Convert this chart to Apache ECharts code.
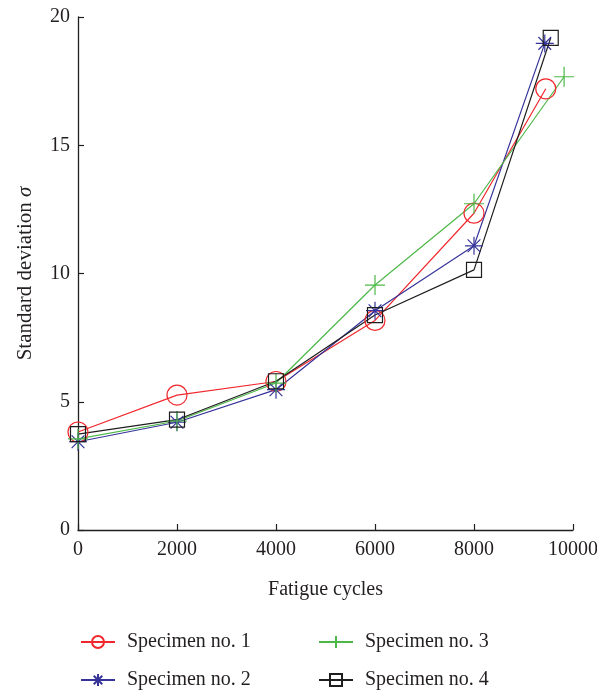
<!DOCTYPE html>
<html>
<head>
<meta charset="utf-8">
<script src="https://cdn.jsdelivr.net/npm/echarts@6/dist/echarts.min.js"></script>
<style>
  html, body { margin: 0; padding: 0; background: #fff; }
  #chart { width: 597px; height: 696px; }
</style>
</head>
<body>
<div id="chart"></div>
<script>
// Standard deviation of specimens versus fatigue cycles
const seriesNames = ['Specimen no. 1', 'Specimen no. 2', 'Specimen no. 3', 'Specimen no. 4'];
const spec1 = [[0, 3.82], [2000, 5.26], [4000, 5.79], [6000, 8.17], [8000, 12.35], [9450, 17.2]];
const spec2 = [[0, 3.44], [2000, 4.2], [4000, 5.47], [6000, 8.55], [8000, 11.08], [9430, 18.97]];
const spec3 = [[0, 3.55], [2000, 4.25], [4000, 5.73], [6000, 9.55], [8000, 12.72], [9820, 17.67]];
const spec4 = [[0, 3.74], [2000, 4.3], [4000, 5.8], [6000, 8.38], [8000, 10.14], [9550, 19.19]];
const xTicks = [0, 2000, 4000, 6000, 8000, 10000];
const yTicks = [0, 5, 10, 15, 20];

const serif = '"Liberation Serif", "DejaVu Serif", serif';
const textColor = '#231f20';
const clear = 'rgba(0,0,0,0)';

const circlePath = 'circle';
const rectPath = 'rect';
const plusPath = 'path://M0,5L10,5M5,0L5,10';
const starPath = 'path://M0,5L10,5M5,0L5,10M1.46,1.46L8.54,8.54M1.46,8.54L8.54,1.46';

function makeSeries(name, data, color, symbol, size) {
  return {
    name: name,
    type: 'line',
    data: data,
    symbol: symbol,
    symbolSize: size,
    showAllSymbol: true,
    lineStyle: { color: color, width: 1.2 },
    itemStyle: { color: clear, borderColor: color, borderWidth: 1.2 },
    emphasis: { disabled: true },
    animation: false,
    z: 3
  };
}

function makeLegend(name, left, top) {
  return {
    data: [name],
    left: left,
    top: top,
    itemWidth: 34,
    itemHeight: 15,
    padding: 0,
    textStyle: { fontFamily: serif, fontSize: 20, color: textColor, padding: [0, 0, 0, 7] },
    selectedMode: false
  };
}

const chart = echarts.init(document.getElementById('chart'), null, { renderer: 'canvas' });
chart.setOption({
  backgroundColor: '#ffffff',
  animation: false,
  grid: { left: 78, right: 24, top: 17, bottom: 166, containLabel: false, outerBoundsMode: 'none' },
  xAxis: {
    type: 'value',
    min: xTicks[0],
    max: xTicks[xTicks.length - 1],
    interval: 2000,
    name: 'Fatigue cycles',
    nameLocation: 'middle',
    nameGap: 50,
    nameTextStyle: { fontFamily: serif, fontSize: 20, color: textColor },
    axisLine: { show: true, lineStyle: { color: '#231f20', width: 1.3 } },
    axisTick: { show: true, inside: true, length: 6, lineStyle: { color: '#231f20', width: 1.2 } },
    axisLabel: { fontFamily: serif, fontSize: 20, color: textColor, margin: 10, formatter: v => String(v) },
    splitLine: { show: false }
  },
  yAxis: {
    type: 'value',
    min: yTicks[0],
    max: yTicks[yTicks.length - 1],
    interval: 5,
    name: '{n|Standard deviation }{i|σ}',
    nameLocation: 'middle',
    nameGap: 42,
    nameTextStyle: {
      fontFamily: serif, fontSize: 21, color: textColor,
      rich: {
        n: { fontFamily: serif, fontSize: 21, color: textColor },
        i: { fontFamily: serif, fontSize: 21, color: textColor, fontStyle: 'italic' }
      }
    },
    axisLine: { show: true, lineStyle: { color: '#231f20', width: 1.3 } },
    axisTick: { show: true, inside: true, length: 6, lineStyle: { color: '#231f20', width: 1.2 } },
    axisLabel: { fontFamily: serif, fontSize: 20, color: textColor, margin: 8, formatter: v => String(v) },
    splitLine: { show: false }
  },
  legend: [
    makeLegend(seriesNames[0], 80, 632),
    makeLegend(seriesNames[1], 80, 670),
    makeLegend(seriesNames[2], 318, 632),
    makeLegend(seriesNames[3], 318, 670)
  ],
  series: [
    makeSeries(seriesNames[0], spec1, '#f0282d', circlePath, 20),
    makeSeries(seriesNames[1], spec2, '#36349a', starPath, 18),
    makeSeries(seriesNames[2], spec3, '#4db848', plusPath, 20),
    makeSeries(seriesNames[3], spec4, '#1e1e1e', rectPath, 15)
  ]
});
</script>
</body>
</html>
